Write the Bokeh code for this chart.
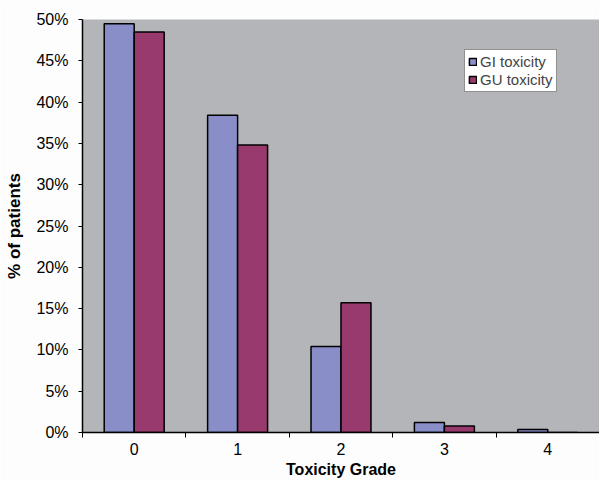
from bokeh.plotting import figure
from bokeh.models import (ColumnDataSource, Range1d, FixedTicker, PrintfTickFormatter,
                          Legend, LegendItem)
from bokeh.embed import file_html
from bokeh.resources import INLINE

grades = ["0", "1", "2", "3", "4"]
gi_toxicity = [49.5, 38.4, 10.4, 1.2, 0.35]
gu_toxicity = [48.5, 34.8, 15.7, 0.8, 0.0]
y_ticks = [0, 5, 10, 15, 20, 25, 30, 35, 40, 45, 50]

xs = list(range(len(grades)))
src = ColumnDataSource(dict(
    x_gi=[x - 0.145 for x in xs],
    x_gu=[x + 0.145 for x in xs],
    gi=gi_toxicity,
    gu=gu_toxicity,
))

p = figure(width=599, height=480, output_backend="svg", toolbar_location=None,
           x_range=Range1d(-0.5, 4.5), y_range=Range1d(0, 50),
           min_border_left=82, min_border_top=19, min_border_bottom=47, min_border_right=0)
p.background_fill_color = "#b3b5b8"
p.border_fill_color = "#fdfdfd"
p.outline_line_color = None
p.grid.visible = False

r1 = p.vbar(x="x_gi", top="gi", width=0.29, source=src, fill_color="#8a8ec8",
            line_color="black", line_width=1.5)
r2 = p.vbar(x="x_gu", top="gu", width=0.29, source=src, fill_color="#983a6d",
            line_color="black", line_width=1.5)

# x axis
xa = p.xaxis[0]
xa.ticker = FixedTicker(ticks=xs, minor_ticks=[x - 0.5 for x in xs] + [xs[-1] + 0.5])
xa.major_label_overrides = {i: g for i, g in enumerate(grades)}
xa.major_tick_line_color = None
xa.major_tick_out = 5
xa.major_tick_in = 0
xa.minor_tick_line_color = "black"
xa.minor_tick_out = 5
xa.minor_tick_in = 0
xa.axis_line_color = "black"
xa.axis_line_width = 1.5
xa.major_label_standoff = 5
xa.major_label_text_font = "Liberation Sans"
xa.major_label_text_font_size = "16px"
xa.major_label_text_color = "black"
xa.axis_label = "Toxicity Grade"
xa.axis_label_text_font = "Liberation Sans"
xa.axis_label_text_font_style = "bold"
xa.axis_label_text_font_size = "16px"
xa.axis_label_text_color = "black"
xa.axis_label_standoff = 3

# y axis
ya = p.yaxis[0]
ya.ticker = FixedTicker(ticks=y_ticks, minor_ticks=[])
ya.formatter = PrintfTickFormatter(format="%d%%")
ya.major_tick_out = 4
ya.major_tick_in = 0
ya.major_tick_line_color = "black"
ya.minor_tick_line_color = None
ya.axis_line_color = "black"
ya.axis_line_width = 1.5
ya.major_label_standoff = 10
ya.major_label_text_font = "Liberation Sans"
ya.major_label_text_font_size = "16px"
ya.major_label_text_color = "black"
ya.axis_label = "% of patients"
ya.axis_label_text_font = "Liberation Sans"
ya.axis_label_text_font_style = "bold"
ya.axis_label_text_font_size = "17px"
ya.axis_label_text_color = "black"
ya.axis_label_standoff = 9

legend = Legend(items=[LegendItem(label="GI toxicity", renderers=[r1]),
                       LegendItem(label="GU toxicity", renderers=[r2])],
                location=(382, 340))
legend.background_fill_color = "white"
legend.background_fill_alpha = 1
legend.border_line_color = "#222222"
legend.border_line_width = 1
legend.label_text_font = "Liberation Sans"
legend.label_text_font_size = "15px"
legend.glyph_width = 9
legend.glyph_height = 9
legend.label_standoff = 3
legend.padding = 3
legend.spacing = 1
legend.margin = 0
legend.label_height = 17
p.add_layout(legend)

open("out.html", "w").write(file_html(p, INLINE))
